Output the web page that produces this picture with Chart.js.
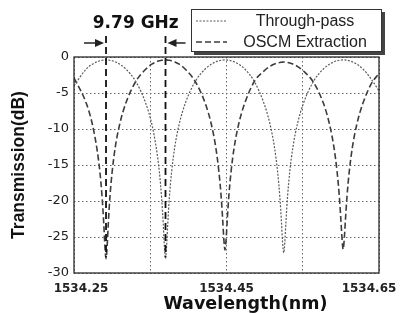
<!DOCTYPE html>
<html><head><meta charset="utf-8">
<script src="https://cdn.jsdelivr.net/npm/chart.js@4.4.1/dist/chart.umd.min.js"></script>
<style>html,body{margin:0;padding:0;background:#fff;overflow:hidden}</style>
</head><body>
<canvas id="c" width="401" height="313"></canvas>
<script>
const wavelength = [1534.250,
 1534.266, 1534.274, 1534.280, 1534.284, 1534.287, 1534.289, 1534.2905, 1534.292, 1534.2935, 1534.295, 1534.297, 1534.300, 1534.304, 1534.310, 1534.318,
 1534.331,
 1534.344, 1534.352, 1534.358, 1534.362, 1534.365, 1534.367, 1534.3685, 1534.370, 1534.3715, 1534.373, 1534.375, 1534.378, 1534.382, 1534.388, 1534.396,
 1534.409,
 1534.422, 1534.430, 1534.436, 1534.440, 1534.443, 1534.445, 1534.4465, 1534.448, 1534.4495, 1534.451, 1534.453, 1534.456, 1534.460, 1534.466, 1534.474,
 1534.4865,
 1534.499, 1534.507, 1534.513, 1534.517, 1534.520, 1534.522, 1534.5235, 1534.525, 1534.5265, 1534.528, 1534.530, 1534.533, 1534.537, 1534.543, 1534.551,
 1534.564,
 1534.577, 1534.585, 1534.591, 1534.595, 1534.598, 1534.600, 1534.6015, 1534.603, 1534.6045, 1534.606, 1534.608, 1534.611, 1534.615, 1534.621, 1534.629,
 1534.640, 1534.650];

const throughPass = [-4.0,
 -1.67, -1.00, -0.67, -0.52, -0.45, -0.43, -0.41, -0.40, -0.41, -0.43, -0.45, -0.52, -0.67, -1.00, -1.67,
 -3.4,
 -6.4, -9.3, -12.7, -16.0, -19.7, -23.1, -26.2, -28.0, -26.2, -23.1, -19.6, -16.0, -12.6, -9.3, -6.4,
 -3.4,
 -1.67, -1.00, -0.67, -0.52, -0.45, -0.43, -0.41, -0.40, -0.41, -0.43, -0.45, -0.52, -0.67, -1.00, -1.67,
 -3.4,
 -6.4, -9.3, -12.6, -15.9, -19.5, -22.8, -25.7, -27.2, -25.7, -22.8, -19.5, -15.9, -12.6, -9.3, -6.4,
 -3.4,
 -1.67, -1.00, -0.67, -0.52, -0.45, -0.43, -0.41, -0.40, -0.41, -0.43, -0.45, -0.52, -0.67, -1.00, -1.67,
 -3.1, -4.7];

const oscmExtraction = [-2.9,
 -6.4, -9.3, -12.7, -16.0, -19.7, -23.1, -26.2, -28.0, -26.2, -23.1, -19.6, -16.0, -12.6, -9.3, -6.4,
 -3.4,
 -1.7, -1.0, -0.68, -0.53, -0.46, -0.44, -0.42, -0.41, -0.42, -0.44, -0.46, -0.53, -0.68, -1.0, -1.7,
 -3.4,
 -6.4, -9.3, -12.6, -15.9, -19.4, -22.6, -25.3, -26.8, -25.3, -22.6, -19.4, -15.9, -12.6, -9.3, -6.4,
 -3.4,
 -1.95, -1.3, -0.98, -0.83, -0.76, -0.73, -0.71, -0.70, -0.71, -0.73, -0.76, -0.83, -0.98, -1.3, -1.95,
 -3.5,
 -6.4, -9.3, -12.6, -15.9, -19.4, -22.6, -25.2, -26.7, -25.2, -22.6, -19.4, -15.9, -12.6, -9.3, -6.4,
 -3.7, -2.3];

const seriesNames = ['Through-pass', 'OSCM Extraction'];
const xTicks = [1534.25, 1534.35, 1534.45, 1534.55, 1534.65];
const xTickLabels = ['1534.25', '', '1534.45', '', '1534.65'];
const yTicks = [0, -5, -10, -15, -20, -25, -30];
const spacingLabel = '9.79 GHz';
const spacingMarks = [1534.292, 1534.370];
const markDepth = -27.8;
const xTitle = 'Wavelength(nm)';
const yTitle = 'Transmission(dB)';

const pts = vals => wavelength.map((w, i) => ({x: w, y: vals[i]}));

function arrow(ctx, fromX, toX, yy) {
  const dir = Math.sign(toX - fromX);
  ctx.beginPath();
  ctx.moveTo(fromX, yy);
  ctx.lineTo(toX - dir * 7, yy);
  ctx.stroke();
  ctx.beginPath();
  ctx.moveTo(toX, yy);
  ctx.lineTo(toX - dir * 9, yy - 4);
  ctx.lineTo(toX - dir * 9, yy + 4);
  ctx.closePath();
  ctx.fill();
}

const decor = {
  id: 'decor',
  beforeDraw(chart) {
    // nudge the end tick labels inward like the original print
    const items = chart.scales.x.getLabelItems();
    if (items.length) {
      items[0].options.translation[0] += 7;
      items[items.length - 1].options.translation[0] -= 10;
    }
  },
  afterDraw(chart) {
    const {ctx, chartArea: a, scales: {x, y}} = chart;
    ctx.save();
    ctx.strokeStyle = '#2a2a2a';
    ctx.lineWidth = 1.3;
    ctx.setLineDash([]);
    ctx.strokeRect(a.left, a.top, a.right - a.left, a.bottom - a.top);

    const px = spacingMarks.map(w => x.getPixelForValue(w));
    ctx.strokeStyle = '#111';
    ctx.lineWidth = 1.8;
    ctx.setLineDash([7, 4]);
    px.forEach(p => {
      ctx.beginPath();
      ctx.moveTo(p, 36);
      ctx.lineTo(p, y.getPixelForValue(markDepth));
      ctx.stroke();
    });
    ctx.setLineDash([]);
    ctx.fillStyle = '#222';
    ctx.strokeStyle = '#222';
    ctx.lineWidth = 1.5;
    arrow(ctx, px[0] - 22, px[0] - 2, 43);
    arrow(ctx, px[1] + 20, px[1] + 2, 43);
    ctx.font = 'bold 17px "DejaVu Sans"';
    ctx.textAlign = 'center';
    ctx.textBaseline = 'middle';
    ctx.fillStyle = '#111';
    ctx.fillText(spacingLabel, (px[0] + px[1]) / 2, 24);

    const L = 191, T = 9, R = 382, B = 52;
    ctx.fillStyle = '#444';
    ctx.fillRect(L + 3, T + 3, R - L, B - T);
    ctx.fillStyle = '#fff';
    ctx.fillRect(L, T, R - L, B - T);
    ctx.strokeStyle = '#333';
    ctx.lineWidth = 1;
    ctx.strokeRect(L + 0.5, T + 0.5, R - L - 1, B - T - 1);
    const rows = [21, 42];
    chart.data.datasets.forEach((d, i) => {
      ctx.strokeStyle = d.borderColor;
      ctx.lineWidth = d.borderWidth;
      ctx.setLineDash(d.borderDash);
      ctx.beginPath();
      ctx.moveTo(196, rows[i]);
      ctx.lineTo(227, rows[i]);
      ctx.stroke();
      ctx.setLineDash([]);
      ctx.font = '16px "Liberation Sans"';
      ctx.fillStyle = '#222';
      ctx.textAlign = 'center';
      ctx.textBaseline = 'middle';
      ctx.fillText(d.label, 305, rows[i] + 1);
    });
    ctx.restore();
  }
};

new Chart(document.getElementById('c'), {
  type: 'line',
  data: {
    datasets: [
      {label: seriesNames[0], data: pts(throughPass), borderColor: '#5a5a5a', borderWidth: 1.2, borderDash: [2, 1.5], pointRadius: 0, cubicInterpolationMode: 'monotone'},
      {label: seriesNames[1], data: pts(oscmExtraction), borderColor: '#3c3c3c', borderWidth: 1.6, borderDash: [6, 3], pointRadius: 0, cubicInterpolationMode: 'monotone'}
    ]
  },
  options: {
    responsive: false,
    animation: false,
    devicePixelRatio: 1,
    layout: {padding: {left: 0, top: 57, right: 22, bottom: 0}},
    plugins: {legend: {display: false}, tooltip: {enabled: false}},
    scales: {
      x: {
        type: 'linear', min: xTicks[0], max: xTicks[xTicks.length - 1],
        afterBuildTicks: s => { s.ticks = xTicks.map(v => ({value: v})); },
        afterFit: s => {
          s.height = 40; s.paddingLeft = 0; s.paddingRight = 0;
          if (!s._titleShifted) {
            const orig = s.drawTitle.bind(s);
            s.drawTitle = function () {
              const c = this.ctx; c.save(); c.translate(19, 0); orig(); c.restore();
            };
            s._titleShifted = true;
          }
        },
        grid: {color: '#666', lineWidth: 1, drawTicks: false},
        border: {display: false, dash: [1.5, 2.5]},
        ticks: {autoSkip: false, maxRotation: 0, padding: 9, color: '#222',
          font: {family: 'DejaVu Sans', weight: 'bold', size: 12},
          callback: (v, i) => xTickLabels[i]},
        title: {display: true, text: xTitle, color: '#111', padding: 0,
          font: {family: 'DejaVu Sans', weight: 'bold', size: 17.5, lineHeight: 1}}
      },
      y: {
        min: -30, max: 0,
        afterBuildTicks: s => { s.ticks = yTicks.map(v => ({value: v})); },
        afterFit: s => { s.width = 74; s.paddingTop = 0; s.paddingBottom = 0; },
        grid: {color: '#666', lineWidth: 1, drawTicks: false},
        border: {display: false, dash: [1.5, 2.5]},
        ticks: {padding: 5, color: '#222', font: {family: 'DejaVu Sans', size: 13}},
        title: {display: true, text: yTitle, color: '#111', padding: {top: 10.5, bottom: 0},
          font: {family: 'Liberation Sans', weight: 'bold', size: 17.5, lineHeight: 1}}
      }
    }
  },
  plugins: [decor]
});
</script>
</body></html>
